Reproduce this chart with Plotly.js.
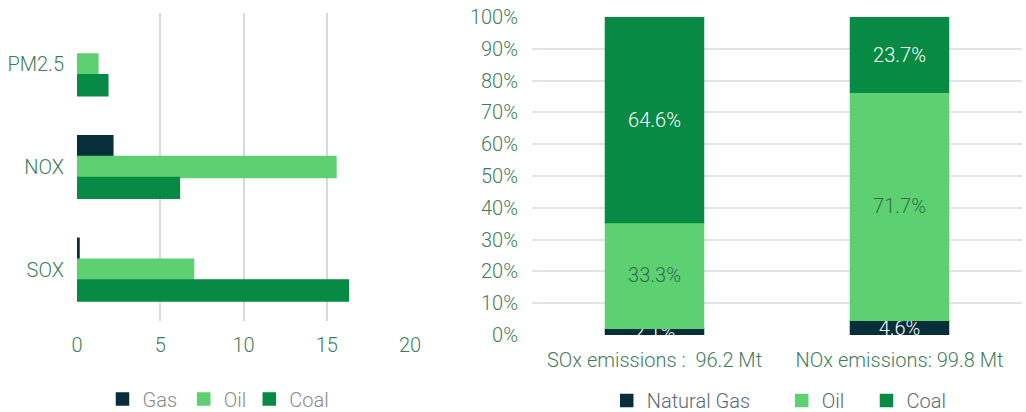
<!DOCTYPE html>
<html>
<head>
<meta charset="utf-8">
<script src="https://cdn.plot.ly/plotly-3.0.1.min.js"></script>
<style>html,body{margin:0;padding:0;background:#fff;}#chart{width:1026px;height:412px;}</style>
</head>
<body>
<div id="chart"></div>
<script>
// Left chart: emissions by pollutant
const pollutants = ['PM2.5', 'NOX', 'SOX'];
const gasLeft = [null, 2.15, 0.12];
const oilLeft = [1.25, 15.55, 7.0];
const coalLeft = [1.85, 6.15, 16.3];

// Right chart: share of emissions
const emissionCats = ['SOx emissions :  96.2 Mt', 'NOx emissions: 99.8 Mt'];
const gasShare = [2.1, 4.6];
const oilShare = [33.3, 71.7];
const coalShare = [64.6, 23.7];

const xTicks = [0, 5, 10, 15, 20];

const C_GAS = '#072e3a', C_OIL = '#5dd172', C_COAL = '#078a44';
const FONT = 'Roboto, "Open Sans", sans-serif';
const TICK_GREEN = '#3e7d5b';
const FS = 20;

const pct = a => a.map(v => v.toFixed(1) + '%');
const add = (a, b) => a.map((v, i) => v + b[i]);
const mk = c => ({color:c, line:{color:c, width:1.5}});

const traces = [
  {type:'bar', orientation:'h', name:'Gas', y:pollutants, x:gasLeft, marker:mk(C_GAS), xaxis:'x', yaxis:'y', legend:'legend'},
  {type:'bar', orientation:'h', name:'Oil', y:pollutants, x:oilLeft, marker:mk(C_OIL), xaxis:'x', yaxis:'y', legend:'legend3'},
  {type:'bar', orientation:'h', name:'Coal', y:pollutants, x:coalLeft, marker:mk(C_COAL), xaxis:'x', yaxis:'y', legend:'legend4'},
  {type:'bar', name:'Natural Gas', x:emissionCats, y:gasShare, base:[0,0], offsetgroup:'s', width:0.4,
   marker:mk(C_GAS), text:pct(gasShare), textposition:'inside', insidetextanchor:'middle', textangle:0, constraintext:'none',
   insidetextfont:{color:'#ffffff', size:FS, family:FONT, weight:300}, xaxis:'x2', yaxis:'y2', legend:'legend2'},
  {type:'bar', name:'Oil', x:emissionCats, y:oilShare, base:gasShare, offsetgroup:'s', width:0.4,
   marker:mk(C_OIL), text:pct(oilShare), textposition:'inside', insidetextanchor:'middle', textangle:0, constraintext:'none',
   insidetextfont:{color:'#2f6e4b', size:FS, family:FONT, weight:300}, xaxis:'x2', yaxis:'y2', legend:'legend5'},
  {type:'bar', name:'Coal', x:emissionCats, y:coalShare, base:add(gasShare, oilShare), offsetgroup:'s', width:0.4,
   marker:mk(C_COAL), text:pct(coalShare), textposition:'inside', insidetextanchor:'middle', textangle:0, constraintext:'none',
   insidetextfont:{color:'#ffffff', size:FS, family:FONT, weight:300}, xaxis:'x2', yaxis:'y2', legend:'legend6'}
];

const W = 1026, H = 412;
const tf = {size:FS, color:TICK_GREEN, family:FONT, weight:300};
const leftLegFont = {size:FS, color:'#8a8a8a', family:FONT, weight:300};
const rightLegFont = {size:FS, color:'#5b687a', family:FONT, weight:300};
const leg = (xpx, ypx, font) => ({orientation:'h', x:xpx/W, xanchor:'left', y:(H-ypx)/H, yanchor:'middle',
  font:font, bgcolor:'rgba(0,0,0,0)', borderwidth:0});

const layout = {
  width: W, height: H,
  margin: {l:0, r:0, t:0, b:0, autoexpand:false},
  paper_bgcolor:'#ffffff', plot_bgcolor:'#ffffff',
  font: {family: FONT, size: FS, color: TICK_GREEN, weight: 300},
  barmode: 'group', bargap: 0.39, bargroupgap: 0,
  showlegend: true,
  xaxis: {domain:[77/W, 410/W], range:[0, 20], tickvals:xTicks, ticktext:xTicks.map(String),
    showgrid:true, gridcolor:'#d9d9d9', gridwidth:2, zeroline:false, showline:false,
    ticks:'', ticklen:0, ticklabelstandoff:10, tickfont:tf, anchor:'y', automargin:false},
  yaxis: {domain:[(H-321)/H, (H-13)/H], type:'category', categoryorder:'array', categoryarray:pollutants,
    autorange:'reversed', showgrid:false, zeroline:false, showline:false, ticks:'', ticklen:0, ticklabelstandoff:12,
    tickfont:tf, anchor:'x', automargin:false},
  xaxis2: {domain:[532/W, 1022/W], type:'category', range:[-0.5, 1.5], showgrid:false, zeroline:false, showline:false,
    ticks:'', ticklabelstandoff:11, tickfont:tf, anchor:'y2', automargin:false},
  yaxis2: {domain:[(H-335)/H, (H-17)/H], range:[0, 100], dtick:10, ticksuffix:'%', showgrid:true, gridcolor:'#e1e5ea', gridwidth:2,
    zeroline:false, showline:false, ticks:'', ticklabelstandoff:13, tickfont:tf, anchor:'x2', automargin:false},
  legend:  leg(102.5, 399, leftLegFont),
  legend3: leg(183.75, 399, leftLegFont),
  legend4: leg(249.25, 399, leftLegFont),
  legend2: leg(606.75, 400.5, rightLegFont),
  legend5: leg(781.75, 400.5, rightLegFont),
  legend6: leg(866.5, 400.5, rightLegFont)
};

Plotly.newPlot('chart', traces, layout, {displayModeBar:false, staticPlot:true});
</script>
</body>
</html>
